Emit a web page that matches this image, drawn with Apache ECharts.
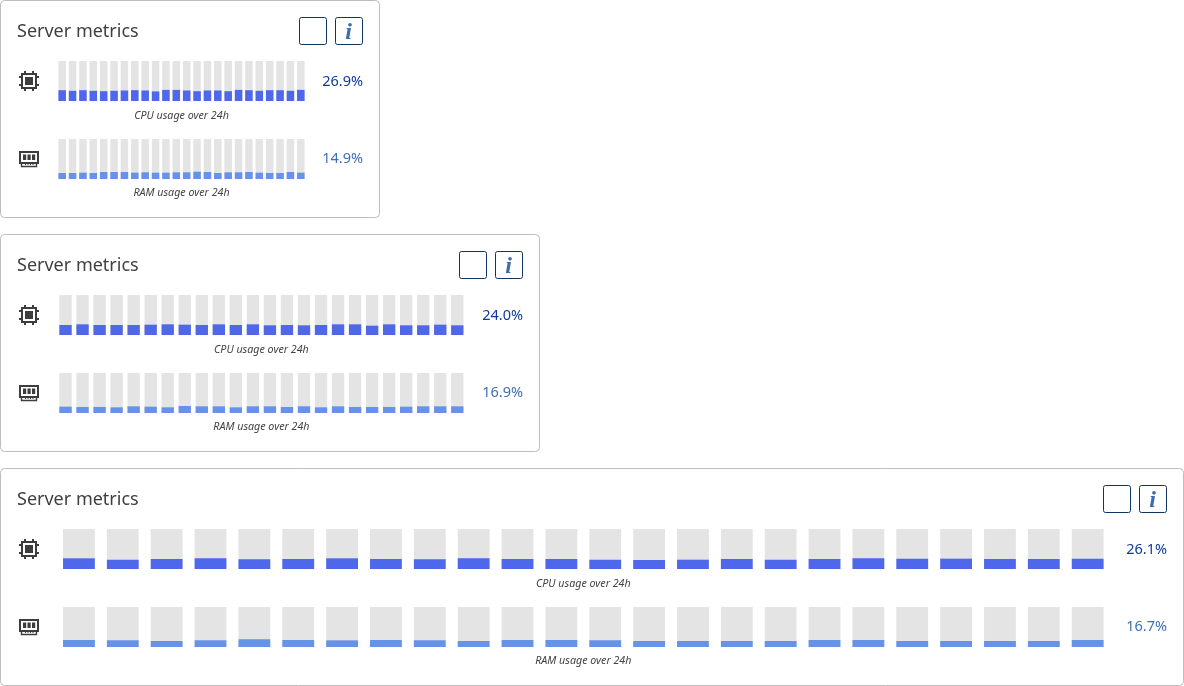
<!DOCTYPE html>
<html><head><meta charset="utf-8">
<style>html,body{margin:0;padding:0;background:#fff}#c{width:1184px;height:686px}</style>
<script src="https://cdn.jsdelivr.net/npm/echarts@6/dist/echarts.min.js"></script>
</head><body><div id="c"></div>
<script>
const hours = Array.from({length:24},(_,i)=>String(i));
const cpuA = [27,25.5,27,25.5,24.5,25.5,26.3,27,26.3,24,27.8,27.8,26.3,24.5,26.3,26.3,24.5,27.8,27,25.5,27,27,25.5,27.8];
const ramA = [15,15,15.8,15,17.5,17.5,17.5,15.8,16.7,15.8,15.8,16.7,16.7,18.3,17.5,15,16.7,16.7,17.5,15.8,15,15,17.5,15.8];
const cpuB = [25,26.7,25,25,25,25.8,26.7,25.8,25,26.7,25,26.7,24.2,25,24.2,25,26.7,26.7,23.3,26.7,24.2,24.2,25.8,24.2];
const ramB = [15.8,15,15,14.2,16.7,15.8,14.2,17.5,16.7,16.7,14.2,16.7,16.7,15,16.7,14.2,16.7,15,15,15,15.8,16.7,16.7,16.7];
const cpuC = [26.7,23.3,25,26.7,24.2,25,26.7,25,24.2,26.7,25,25,23.3,22.5,23.3,25,23.3,25,26.7,25.8,25.8,25,25,25.8];
const ramC = [17.5,16.7,15,16.7,19.2,17.5,16.7,17.5,16.7,15,17.5,17.5,16.7,15,15,15,15,17.5,17.5,15,15,15,15,17.5];
const cpuLabels = ['26.9%','24.0%','26.1%'];
const ramLabels = ['14.9%','16.9%','16.7%'];
const titleText = 'Server metrics';
const cpuCaption = 'CPU usage over 24h';
const ramCaption = 'RAM usage over 24h';

const cards = [
  {y:0,   w:379,  gridW:249,    cpu:cpuA, ram:ramA},
  {y:234, w:539,  gridW:408.8,  cpu:cpuB, ram:ramB},
  {y:468, w:1183, gridW:1052.6, cpu:cpuC, ram:ramC}
];
const FONT = '"Noto Sans", sans-serif';
const grid=[], xAxis=[], yAxis=[], series=[], graphic=[];
const ink = '#3d3d3d';
const rect=(x,y,w,h,style)=>({type:'rect',shape:{x,y,width:w,height:h},style});
const txt=(x,y,text,font,fill,align)=>({type:'text',x,y,style:{text,font,fill,align:align||'left',verticalAlign:'middle'}});

function addBars(top,gw,data,color){
  const i=grid.length;
  grid.push({left:57,top,width:gw,height:40,containLabel:false});
  xAxis.push({type:'category',gridIndex:i,data:hours,show:false});
  yAxis.push({type:'value',gridIndex:i,min:0,max:100,show:false});
  series.push({type:'bar',xAxisIndex:i,yAxisIndex:i,data,barWidth:'72.5%',silent:true,animation:false,
    showBackground:true,backgroundStyle:{color:'#e4e4e4'},itemStyle:{color}});
}
function cpuIcon(cx,cy){
  const s={fill:ink}, out=[];
  out.push(rect(cx-7,cy-7,14,14,{fill:'none',stroke:ink,lineWidth:2}));
  out.push(rect(cx-4,cy-4,8,8,s));
  [-5,3].forEach(d=>{
    out.push(rect(cx+d,cy-10,2,2,s),rect(cx+d,cy+8,2,2,s),rect(cx-10,cy+d,2,2,s),rect(cx+8,cy+d,2,2,s));
  });
  return out;
}
function ramIcon(cx,cy){
  const s={fill:ink}, out=[];
  out.push(rect(cx-9,cy-6,18,11,{fill:'none',stroke:ink,lineWidth:2}));
  [-6,-1.5,3].forEach(d=>out.push(rect(cx+d,cy-3.5,3.2,5.5,s)));
  out.push(rect(cx-7.5,cy+5,15,3.5,{fill:'none',stroke:ink,lineWidth:1.4}));
  [-4,-1.5,1,3.5].forEach(d=>out.push(rect(cx+d,cy+5,1,2,s)));
  return out;
}
cards.forEach((c,k)=>{
  const cx = 57 + c.gridW/2;
  graphic.push({type:'rect',z:-1,shape:{x:0.5,y:c.y+0.5,width:c.w,height:217,r:4},style:{fill:'#fff',stroke:'#bdbdbd',lineWidth:1}});
  graphic.push(txt(17,c.y+32,titleText,'18px '+FONT,'#3f3f3f'));
  const r=c.w-16;
  graphic.push({type:'rect',shape:{x:r-64+0.5,y:c.y+17.5,width:27,height:27,r:2},style:{fill:'#fff',stroke:'#0f3460',lineWidth:1}});
  graphic.push({type:'rect',shape:{x:r-28+0.5,y:c.y+17.5,width:27,height:27,r:2},style:{fill:'#fff',stroke:'#0f3460',lineWidth:1}});
  graphic.push(txt(r-14.5,c.y+33,'i','italic bold 24px "Liberation Serif", serif','#3a6cb0','center'));
  addBars(c.y+61,c.gridW,c.cpu,'#4f67eb');
  addBars(c.y+139,c.gridW,c.ram,'#6692ea');
  graphic.push(txt(cx,c.y+116,cpuCaption,'italic 10.7px '+FONT,'#444','center'));
  graphic.push(txt(cx,c.y+193,ramCaption,'italic 10.7px '+FONT,'#444','center'));
  graphic.push(txt(c.w-16,c.y+82,cpuLabels[k],'14.5px '+FONT,'#0f3a9c','right'));
  graphic.push(txt(c.w-16,c.y+159,ramLabels[k],'14.5px '+FONT,'#3f6fb5','right'));
  graphic.push(...cpuIcon(29,c.y+81),...ramIcon(29,c.y+158));
});
const chart = echarts.init(document.getElementById('c'),null,{renderer:'canvas',width:1184,height:686});
chart.setOption({animation:false,backgroundColor:'#fff',grid,xAxis,yAxis,series,graphic:{elements:graphic}});
</script></body></html>
